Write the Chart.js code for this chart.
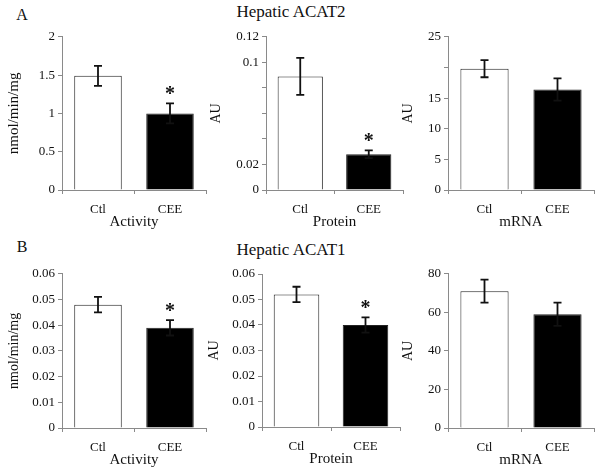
<!DOCTYPE html>
<html>
<head>
<meta charset="utf-8">
<script src="https://cdn.jsdelivr.net/npm/chart.js@4/dist/chart.umd.min.js"></script>
<style>
  html, body { margin: 0; padding: 0; background: #fff; overflow: hidden; }
  body { width: 600px; height: 472px; position: relative; font-family: 'Liberation Serif', 'Times New Roman', serif; color: #111; }
  canvas { position: absolute; }
  .lbl { position: absolute; transform: translate(-50%, -50%); white-space: nowrap; }
</style>
</head>
<body>
<div class="lbl" style="left:22px;top:15px;font-size:16px">A</div>
<div class="lbl" style="left:291px;top:12px;font-size:17px">Hepatic ACAT2</div>
<div class="lbl" style="left:22px;top:247px;font-size:16px">B</div>
<div class="lbl" style="left:291px;top:250px;font-size:17px">Hepatic ACAT1</div>

<canvas id="a1"></canvas>
<canvas id="a2"></canvas>
<canvas id="a3"></canvas>
<canvas id="b1"></canvas>
<canvas id="b2"></canvas>
<canvas id="b3"></canvas>

<script>
'use strict';

// ── Data ──────────────────────────────────────────────────────────────────────
const groups = ['Ctl', 'CEE'];

// Hepatic ACAT2
const acat2Activity    = [1.49, 1.0];
const acat2ActivityErr = [0.13, 0.13];
const acat2Protein     = [0.089, 0.028];
const acat2ProteinErr  = [0.0145, 0.003];
const acat2Mrna        = [19.8, 16.4];
const acat2MrnaErr     = [1.4, 1.8];

// Hepatic ACAT1
const acat1Activity    = [0.048, 0.039];
const acat1ActivityErr = [0.003, 0.003];
const acat1Protein     = [0.052, 0.040];
const acat1ProteinErr  = [0.003, 0.003];
const acat1Mrna        = [71, 59];
const acat1MrnaErr     = [6, 6];

// significance marks (*)
const sigYes = [false, true];
const sigNo  = [false, false];

// y tick labels (blank = tick without label)
const ticksAct2  = ['0', '0.5', '1', '1.5', '2'];
const ticksProt2 = ['0', '0.02', '', '', '', '0.1', '0.12'];
const ticksMrna2 = ['0', '5', '10', '15', '', '25'];
const ticksAct1  = ['0', '0.01', '0.02', '0.03', '0.04', '0.05', '0.06'];
const ticksProt1 = ['0', '0.01', '0.02', '0.03', '0.04', '0.05', '0.06'];
const ticksMrna1 = ['0', '20', '40', '60', '80'];

// ── Panel builder ─────────────────────────────────────────────────────────────
const SERIF = "'Liberation Serif', 'Times New Roman', serif";
const AXIS  = '#8a8a8a';
const X_H   = 41;

function makePanel(p) {
  const cv = document.getElementById(p.id);
  cv.style.left = p.cv.x + 'px';
  cv.style.top  = p.cv.y + 'px';
  cv.width  = p.cv.w;
  cv.height = p.cv.h;

  const errBars = {
    id: 'errBars' + p.id,
    afterDatasetsDraw(chart) {
      const { ctx, scales: { y } } = chart;
      const meta = chart.getDatasetMeta(0);
      ctx.save();
      ctx.strokeStyle = '#111';
      ctx.fillStyle = '#111';
      ctx.lineWidth = 1.8;
      ctx.font = 'bold 20px ' + SERIF;
      ctx.textAlign = 'center';
      ctx.textBaseline = 'alphabetic';
      meta.data.forEach((bar, i) => {
        const v = p.values[i], e = p.err[i];
        const yt = y.getPixelForValue(v + e);
        const yb = y.getPixelForValue(v - e);
        ctx.beginPath();
        ctx.moveTo(bar.x, yt); ctx.lineTo(bar.x, yb);
        ctx.moveTo(bar.x - 4, yt); ctx.lineTo(bar.x + 4, yt);
        ctx.moveTo(bar.x - 4, yb); ctx.lineTo(bar.x + 4, yb);
        ctx.stroke();
        if (p.sig[i]) ctx.fillText('*', bar.x, yt - 3);
      });
      ctx.restore();
    }
  };

  new Chart(cv, {
    type: 'bar',
    data: {
      labels: groups,
      datasets: [{
        data: p.values,
        backgroundColor: ['#ffffff', '#000000'],
        borderColor: '#222',
        borderWidth: 1,
        barPercentage: 0.66,
        categoryPercentage: 1,
      }]
    },
    options: {
      responsive: false,
      animation: false,
      events: [],
      layout: {
        padding: {
          left: 0,
          top: p.area.t - p.cv.y,
          right: p.cv.x + p.cv.w - p.area.r,
          bottom: p.cv.y + p.cv.h - p.area.b - X_H,
        }
      },
      plugins: { legend: { display: false }, tooltip: { enabled: false } },
      scales: {
        x: {
          afterFit: s => { s.height = X_H; },
          grid:   { drawOnChartArea: false, tickLength: 4, color: AXIS, offset: true },
          border: { color: AXIS, width: 1 },
          ticks:  { color: '#111', padding: 8, maxRotation: 0, font: { family: SERIF, size: 13 } },
          title:  { display: true, text: p.xTitle, color: '#111', padding: 0, font: { family: SERIF, size: 15 } },
        },
        y: {
          min: 0,
          max: p.yMax,
          afterFit: s => { s.width = p.area.l - p.cv.x; },
          grid:   { drawOnChartArea: false, tickLength: 4, color: AXIS },
          border: { color: AXIS, width: 1 },
          ticks:  {
            stepSize: p.yStep,
            color: '#111',
            padding: 3,
            font: { family: SERIF, size: 13 },
            callback: (v, i) => p.yTicks[i] ?? '',
          },
          title:  { display: true, text: p.yTitle, color: '#111', padding: { top: p.yTitlePad, bottom: 0 },
                    font: { family: SERIF, size: p.yTitleSize } },
        }
      }
    },
    plugins: [errBars]
  });
}

// ── Panels ────────────────────────────────────────────────────────────────────
makePanel({ id: 'a1', cv: { x: 0,   y: 26, w: 210, h: 210 }, area: { l: 62,  t: 36, r: 206, b: 190 },
  values: acat2Activity, err: acat2ActivityErr, sig: sigYes, yMax: 2, yStep: 0.5, yTicks: ticksAct2,
  yTitle: 'nmol/min/mg', yTitleSize: 15, yTitlePad: 5, xTitle: 'Activity' });
makePanel({ id: 'a2', cv: { x: 200, y: 26, w: 210, h: 210 }, area: { l: 266, t: 36, r: 403, b: 190 },
  values: acat2Protein, err: acat2ProteinErr, sig: sigYes, yMax: 0.12, yStep: 0.02, yTicks: ticksProt2,
  yTitle: 'AU', yTitleSize: 14, yTitlePad: 8, xTitle: 'Protein' });
makePanel({ id: 'a3', cv: { x: 400, y: 26, w: 200, h: 210 }, area: { l: 448, t: 36, r: 594, b: 190 },
  values: acat2Mrna, err: acat2MrnaErr, sig: sigNo, yMax: 25, yStep: 5, yTicks: ticksMrna2,
  yTitle: 'AU', yTitleSize: 14, yTitlePad: 0, xTitle: 'mRNA' });

makePanel({ id: 'b1', cv: { x: 0,   y: 263, w: 210, h: 210 }, area: { l: 62,  t: 273, r: 206, b: 428 },
  values: acat1Activity, err: acat1ActivityErr, sig: sigYes, yMax: 0.06, yStep: 0.01, yTicks: ticksAct1,
  yTitle: 'nmol/min/mg', yTitleSize: 14, yTitlePad: 6, xTitle: 'Activity' });
makePanel({ id: 'b2', cv: { x: 200, y: 263, w: 210, h: 210 }, area: { l: 262, t: 274, r: 400, b: 427 },
  values: acat1Protein, err: acat1ProteinErr, sig: sigYes, yMax: 0.06, yStep: 0.01, yTicks: ticksProt1,
  yTitle: 'AU', yTitleSize: 14, yTitlePad: 6, xTitle: 'Protein' });
makePanel({ id: 'b3', cv: { x: 400, y: 263, w: 200, h: 210 }, area: { l: 448, t: 273, r: 594, b: 428 },
  values: acat1Mrna, err: acat1MrnaErr, sig: sigNo, yMax: 80, yStep: 20, yTicks: ticksMrna1,
  yTitle: 'AU', yTitleSize: 14, yTitlePad: 0, xTitle: 'mRNA' });
</script>
</body>
</html>
